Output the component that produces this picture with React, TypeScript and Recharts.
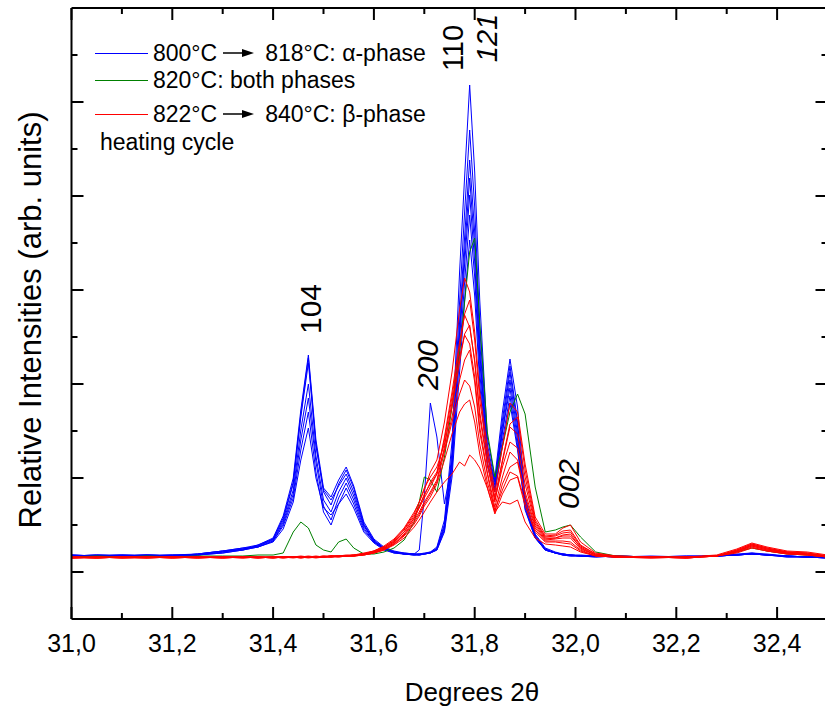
import React from "react";
import { Line, LineChart, XAxis, YAxis } from "recharts";

// 2theta positions (degrees)
const X = [
	31.0, 31.05, 31.1, 31.15, 31.2, 31.25, 31.3, 31.34, 31.37, 31.4,
	31.42, 31.44, 31.455, 31.47, 31.485, 31.5, 31.515, 31.53, 31.545, 31.56,
	31.58, 31.6, 31.62, 31.64, 31.66, 31.68, 31.69, 31.7, 31.712, 31.725,
	31.74, 31.755, 31.77, 31.78, 31.79, 31.8, 31.81, 31.825, 31.84, 31.855,
	31.87, 31.885, 31.9, 31.92, 31.94, 31.96, 31.975, 31.99, 32.01, 32.04,
	32.08, 32.15, 32.22, 32.28, 32.32, 32.35, 32.38, 32.42, 32.46, 32.5,
];

// alpha phase, 800 -> 818 C (blue)
const B1 = [
	16, 17, 16, 17, 16, 18, 21, 24, 27, 34,
	56, 94, 162, 217, 132, 84, 75, 92, 105, 86,
	50, 33, 25, 21, 19, 18, 18, 19, 20, 25,
	52, 130, 300, 395, 487, 400, 272, 135, 94, 160,
	213, 165, 75, 38, 24, 20, 18, 17, 17, 16,
	16, 15, 15, 16, 18, 19, 18, 16, 15, 14,
];
const B2 = [
	17, 16, 17, 16, 17, 17, 20, 23, 26, 33,
	54, 90, 158, 214, 128, 80, 67, 88, 102, 84,
	48, 32, 24, 20, 18, 18, 17, 18, 19, 24,
	48, 120, 270, 360, 442, 365, 245, 128, 90, 152,
	206, 150, 72, 37, 23, 19, 18, 17, 16, 16,
	15, 16, 15, 16, 17, 18, 17, 16, 15, 15,
];
const B3 = [
	16, 16, 17, 17, 16, 18, 21, 22, 27, 33,
	52, 88, 155, 209, 126, 82, 72, 86, 98, 80,
	47, 31, 24, 20, 19, 18, 18, 18, 20, 23,
	46, 112, 250, 335, 412, 340, 230, 122, 87, 146,
	200, 145, 70, 36, 23, 19, 18, 17, 16, 16,
	16, 15, 15, 16, 17, 19, 17, 16, 15, 14,
];
const B4 = [
	17, 16, 16, 17, 17, 17, 20, 23, 26, 32,
	50, 82, 142, 188, 116, 72, 60, 80, 94, 76,
	46, 31, 23, 20, 18, 17, 18, 18, 19, 23,
	44, 108, 240, 320, 394, 325, 220, 118, 84, 140,
	192, 138, 68, 35, 22, 19, 18, 17, 16, 15,
	16, 15, 16, 16, 17, 18, 17, 15, 15, 15,
];
const B5 = [
	16, 17, 16, 16, 17, 18, 21, 24, 25, 31,
	48, 78, 132, 174, 110, 66, 52, 74, 89, 72,
	44, 30, 23, 20, 18, 18, 22, 75, 169, 135,
	68, 110, 232, 308, 377, 310, 212, 115, 92, 140,
	184, 132, 66, 35, 22, 19, 17, 17, 16, 16,
	15, 15, 16, 16, 17, 18, 17, 16, 15, 14,
];
const B6 = [
	16, 17, 17, 16, 16, 17, 19, 22, 25, 31,
	46, 74, 122, 160, 100, 60, 47, 68, 84, 68,
	42, 30, 23, 19, 18, 17, 17, 18, 19, 22,
	42, 102, 218, 290, 357, 295, 200, 110, 82, 132,
	176, 126, 64, 34, 22, 19, 17, 16, 16, 16,
	15, 15, 15, 16, 17, 18, 17, 15, 15, 14,
];
const B7 = [
	17, 16, 16, 17, 16, 17, 19, 22, 25, 30,
	43, 70, 112, 144, 94, 64, 57, 68, 78, 64,
	40, 29, 22, 19, 18, 17, 17, 18, 19, 22,
	40, 95, 200, 272, 332, 276, 188, 106, 80, 126,
	169, 122, 62, 34, 22, 19, 17, 16, 16, 15,
	16, 15, 15, 16, 17, 18, 17, 16, 15, 15,
];

// 820 C, both phases (green)
const G1 = [
	15, 16, 15, 16, 15, 16, 16, 16, 17, 17,
	19, 40, 50, 44, 27, 22, 20, 30, 33, 24,
	18, 18, 20, 24, 32, 50, 70, 95, 92, 80,
	115, 165, 220, 270, 320, 334, 250, 140, 95, 125,
	160, 178, 158, 85, 40, 42, 45, 47, 35, 20,
	16, 15, 15, 16, 20, 24, 21, 18, 17, 15,
];

// beta phase, 822 -> 840 C (red)
const R1 = [
	15, 14, 15, 15, 14, 15, 15, 15, 14, 15,
	15, 15, 16, 15, 15, 16, 16, 16, 17, 17,
	19, 21, 26, 33, 44, 60, 70, 82, 100, 112,
	150, 200, 262, 294, 280, 240, 180, 125, 80, 125,
	169, 160, 108, 55, 38, 38, 44, 47, 30, 19,
	16, 15, 15, 17, 23, 29, 25, 21, 20, 17,
];
const R2 = [
	14, 15, 14, 15, 15, 14, 15, 15, 15, 14,
	15, 15, 15, 16, 15, 15, 16, 16, 16, 17,
	18, 21, 25, 31, 42, 56, 66, 76, 90, 100,
	132, 175, 225, 258, 272, 232, 172, 118, 75, 112,
	148, 155, 102, 52, 36, 37, 41, 42, 27, 18,
	16, 15, 14, 16, 22, 28, 24, 20, 19, 16,
];
const R3 = [
	15, 15, 14, 14, 15, 15, 14, 15, 15, 15,
	14, 15, 15, 15, 16, 15, 16, 16, 16, 16,
	18, 20, 24, 30, 40, 54, 64, 74, 85, 98,
	135, 180, 230, 257, 245, 212, 160, 110, 70, 110,
	145, 138, 95, 50, 35, 36, 39, 40, 26, 18,
	15, 15, 15, 16, 21, 27, 23, 20, 18, 16,
];
const R4 = [
	14, 14, 15, 15, 14, 15, 15, 14, 15, 15,
	15, 15, 14, 15, 15, 16, 15, 16, 16, 17,
	18, 21, 25, 32, 43, 58, 70, 84, 95, 105,
	128, 165, 210, 238, 247, 210, 155, 108, 72, 105,
	130, 124, 88, 48, 34, 34, 36, 36, 25, 17,
	15, 15, 14, 16, 22, 28, 24, 20, 19, 16,
];
const R5 = [
	15, 14, 15, 14, 15, 14, 15, 15, 15, 14,
	15, 15, 15, 15, 15, 15, 16, 16, 16, 16,
	18, 20, 23, 29, 38, 52, 60, 70, 80, 92,
	125, 170, 215, 237, 228, 195, 145, 100, 65, 95,
	120, 112, 80, 46, 33, 34, 37, 38, 24, 17,
	15, 14, 15, 16, 21, 27, 23, 19, 18, 16,
];
const R6 = [
	14, 15, 15, 14, 15, 15, 14, 15, 14, 15,
	15, 14, 15, 15, 15, 15, 15, 16, 16, 17,
	18, 20, 24, 30, 40, 54, 65, 78, 88, 98,
	122, 155, 192, 212, 222, 190, 140, 98, 60, 88,
	105, 110, 76, 44, 32, 33, 34, 34, 23, 17,
	15, 15, 15, 16, 21, 26, 22, 19, 18, 15,
];
const R7 = [
	15, 15, 14, 15, 15, 14, 15, 14, 15, 15,
	14, 15, 15, 14, 15, 15, 16, 15, 16, 16,
	17, 19, 23, 28, 37, 50, 58, 68, 78, 90,
	120, 150, 178, 192, 186, 165, 128, 90, 62, 82,
	100, 96, 70, 42, 31, 31, 31, 30, 22, 16,
	15, 14, 15, 16, 20, 26, 22, 19, 17, 15,
];
const R8 = [
	14, 15, 15, 15, 14, 15, 15, 15, 14, 15,
	15, 15, 14, 15, 15, 15, 15, 16, 16, 16,
	17, 19, 22, 28, 36, 48, 56, 66, 75, 88,
	112, 138, 160, 168, 172, 150, 118, 85, 58, 78,
	92, 95, 66, 40, 30, 30, 29, 28, 21, 16,
	15, 15, 14, 16, 20, 25, 21, 18, 17, 15,
];
const R9 = [
	15, 14, 15, 15, 15, 15, 14, 15, 15, 14,
	15, 15, 15, 15, 14, 15, 15, 15, 16, 16,
	17, 19, 22, 27, 34, 45, 52, 60, 70, 80,
	90, 98, 110, 106, 117, 112, 104, 84, 60, 70,
	68, 72, 50, 34, 28, 27, 26, 25, 20, 16,
	15, 15, 14, 16, 19, 24, 21, 18, 17, 15,
];

const BLUE = [B1, B2, B3, B4, B5, B6, B7];
const GREEN = [G1];
const RED = [R1, R2, R3, R4, R5, R6, R7, R8, R9];

const X_TICKS = [
	31.0, 31.1, 31.2, 31.3, 31.4, 31.5, 31.6, 31.7, 31.8, 31.9, 32.0, 32.1,
	32.2, 32.3, 32.4, 32.5,
];
const Y_TICKS = [0, 47, 94, 141, 188, 235, 282, 329, 376, 423, 470, 517];
const X_DOMAIN = [31, 32.5];
const Y_DOMAIN = [-47, 564];

const FONT = "'Liberation Sans', Arial, Helvetica, sans-serif";

// plot box in page pixels (same numbers the chart margins/axis sizes give)
const BOX = { left: 71.5, top: 8, width: 756, height: 611 };
const toPx = (v: number) => BOX.left + ((v - X_DOMAIN[0]) / (X_DOMAIN[1] - X_DOMAIN[0])) * BOX.width;
const toPy = (v: number) => BOX.top + ((Y_DOMAIN[1] - v) / (Y_DOMAIN[1] - Y_DOMAIN[0])) * BOX.height;

const series = [
	...BLUE.map((v, i) => ({ key: `b${i}`, values: v, color: "#0000ff" })),
	...GREEN.map((v, i) => ({ key: `g${i}`, values: v, color: "#008000" })),
	...RED.map((v, i) => ({ key: `r${i}`, values: v, color: "#ff0000" })),
];

const data = X.map((x, i) => {
	const row: Record<string, number> = { x };
	for (const s of series) row[s.key] = s.values[i];
	return row;
});

const isMajorX = (v: number) => Math.round(v * 10) % 2 === 0;
const isMajorY = (v: number) => Math.round(v / 47) % 2 === 0;

const BottomTick = ({ x, y, payload }: any) => {
	const len = isMajorX(payload.value) ? 12 : 6;
	return (
		<g>
			<line x1={x} y1={y} x2={x} y2={y - len} stroke="#000" strokeWidth={2} />
			{len === 12 && payload.value < 32.45 && (
				<text x={x} y={y + 33} textAnchor="middle" fontSize={25} fontFamily={FONT} fill="#000">
					{payload.value.toFixed(1).replace(".", ",")}
				</text>
			)}
		</g>
	);
};

const LeftTick = ({ x, y, payload }: any) => {
	const len = isMajorY(payload.value) ? 12 : 6;
	return <line x1={x} y1={y} x2={x + len} y2={y} stroke="#000" strokeWidth={2} />;
};

// mirrored ticks on the top and right frame, drawn above the chart
const FrameTicks = () => (
	<svg
		width={825}
		height={713}
		style={{ position: "absolute", left: 0, top: 0, pointerEvents: "none", zIndex: 2 }}
	>
		{X_TICKS.map((v) => (
			<line
				key={`t${v}`}
				x1={toPx(v)}
				y1={BOX.top}
				x2={toPx(v)}
				y2={BOX.top + (isMajorX(v) ? 12 : 6)}
				stroke="#000"
				strokeWidth={2}
			/>
		))}
		{Y_TICKS.map((v) => (
			<line
				key={`r${v}`}
				x1={BOX.left + BOX.width}
				y1={toPy(v)}
				x2={BOX.left + BOX.width - (isMajorY(v) ? 12 : 6)}
				y2={toPy(v)}
				stroke="#000"
				strokeWidth={2}
			/>
		))}
	</svg>
);

const Arrow = () => (
	<svg width={32} height={12} style={{ margin: "0 10px 0 6px" }}>
		<line x1={0} y1={6} x2={22} y2={6} stroke="#000" strokeWidth={1.5} />
		<polygon points="19,2 31,6 19,10" fill="#000" />
	</svg>
);

const LegendRow = ({ top, color, children }: any) => (
	<div style={{ position: "absolute", left: 95, top: top - 13, height: 26, display: "flex", alignItems: "center", whiteSpace: "nowrap", fontSize: 23 }}>
		<div style={{ width: 53, height: 0, borderTop: `1px solid ${color}`, marginRight: 5 }} />
		{children}
	</div>
);

const Rotated = ({ cx, cy, size, italic, children }: any) => (
	<div
		style={{
			position: "absolute",
			left: cx,
			top: cy,
			transform: "translate(-50%, -50%) rotate(-90deg)",
			fontSize: size,
			lineHeight: 1,
			fontStyle: italic ? "italic" : "normal",
			whiteSpace: "nowrap",
		}}
	>
		{children}
	</div>
);

const App: React.FC = () => {
	return (
		<div
			style={{
				position: "absolute",
				left: 0,
				top: 0,
				width: 825,
				height: 713,
				overflow: "hidden",
				background: "#fff",
				fontFamily: FONT,
				color: "#000",
			}}
		>
			<LineChart
				width={835}
				height={713}
				data={data}
				margin={{ top: 3, right: 2.5, bottom: 64, left: 11.5 }}
			>
				<XAxis
					xAxisId="b"
					dataKey="x"
					type="number"
					domain={X_DOMAIN}
					ticks={X_TICKS}
					interval={0}
					allowDataOverflow
					height={30}
					tickSize={0}
					tickMargin={0}
					tickLine={false}
					axisLine={{ stroke: "#000", strokeWidth: 2 }}
					tick={<BottomTick />}
				/>
				<XAxis xAxisId="t" orientation="top" height={5} tick={false} tickLine={false} axisLine={{ stroke: "#000", strokeWidth: 2 }} />
				<YAxis
					yAxisId="l"
					type="number"
					domain={Y_DOMAIN}
					ticks={Y_TICKS}
					interval={0}
					allowDataOverflow
					width={60}
					tickSize={0}
					tickMargin={0}
					tickLine={false}
					axisLine={{ stroke: "#000", strokeWidth: 2 }}
					tick={<LeftTick />}
				/>
				<YAxis yAxisId="r" orientation="right" width={5} tick={false} tickLine={false} axisLine={{ stroke: "#000", strokeWidth: 2 }} />
				{series.map((s) => (
					<Line
						key={s.key}
						xAxisId="b"
						yAxisId="l"
						type="linear"
						dataKey={s.key}
						stroke={s.color}
						strokeWidth={1}
						dot={false}
						activeDot={false}
						isAnimationActive={false}
					/>
				))}
			</LineChart>

			<FrameTicks />

			<LegendRow top={53} color="#0000ff">
				<span>800°C</span>
				<Arrow />
				<span>818°C: α-phase</span>
			</LegendRow>
			<LegendRow top={80} color="#008000">
				<span>820°C: both phases</span>
			</LegendRow>
			<LegendRow top={114} color="#ff0000">
				<span>822°C</span>
				<Arrow />
				<span>840°C: β-phase</span>
			</LegendRow>
			<div style={{ position: "absolute", left: 100, top: 129, fontSize: 23, lineHeight: "26px", whiteSpace: "nowrap" }}>
				heating cycle
			</div>

			<Rotated cx={311} cy={309} size={30}>104</Rotated>
			<Rotated cx={453} cy={48} size={29}>110</Rotated>
			<Rotated cx={487} cy={38} size={29} italic>121</Rotated>
			<Rotated cx={428} cy={365} size={30} italic>200</Rotated>
			<Rotated cx={569} cy={484} size={30} italic>002</Rotated>

			<Rotated cx={30} cy={320} size={31}>Relative Intensities (arb. units)</Rotated>
			<div style={{ position: "absolute", left: 472, top: 692, transform: "translate(-50%, -50%)", fontSize: 26, lineHeight: 1, whiteSpace: "nowrap" }}>
				Degrees 2θ
			</div>
		</div>
	);
};

export default App;
